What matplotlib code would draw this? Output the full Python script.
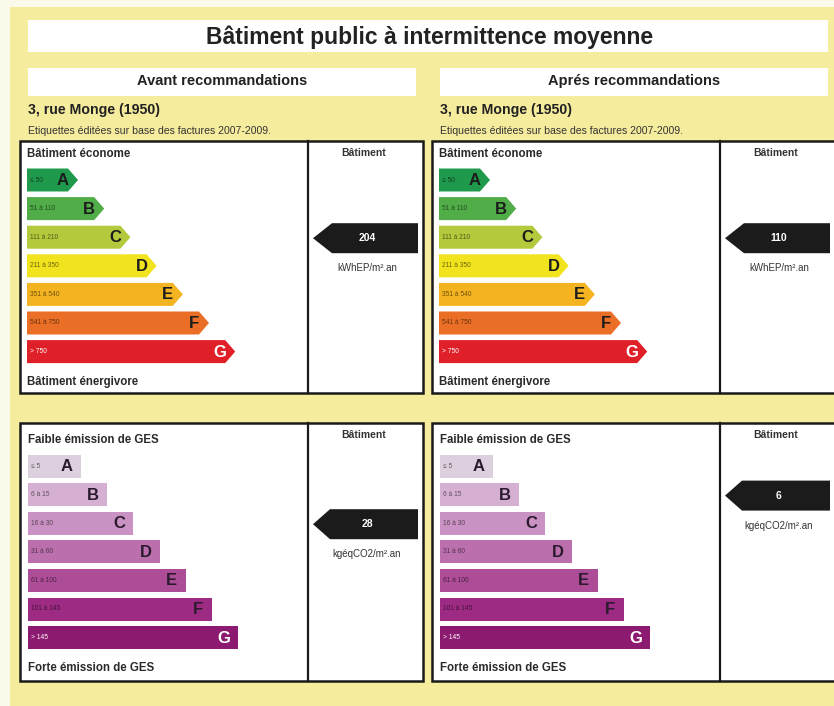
import matplotlib
matplotlib.use("Agg")
import matplotlib.pyplot as plt
from matplotlib.patches import Rectangle, Polygon
from matplotlib.colors import to_rgb

plt.rcParams['font.family'] = ['Liberation Sans', 'DejaVu Sans']

# --- données ---
title = "Bâtiment public à intermittence moyenne"
columns = ["Avant recommandations", "Aprés recommandations"]
address = "3, rue Monge (1950)"
note = "Etiquettes éditées sur base des factures 2007-2009."

classes = ["A", "B", "C", "D", "E", "F", "G"]
energy_ranges = ["≤ 50", "51 à 110", "111 à 210", "211 à 350", "351 à 540", "541 à 750", "> 750"]
energy_colors = ["#1f9a4c", "#50ad47", "#b4c93b", "#f1e31d", "#f4b320", "#ea6e26", "#e02028"]
ges_ranges = ["≤ 5", "6 à 15", "16 à 30", "31 à 60", "61 à 100", "101 à 145", "> 145"]
ges_colors = ["#ddd0de", "#d6b0d3", "#c992c2", "#bb70ad", "#ad4c97", "#9d2b84", "#8b1a70"]

energy_values = [204, 110]
energy_rows = ["C", "C"]
ges_values = [28, 6]
ges_rows = ["C", "B"]
energy_unit = "kWhEP/m².an"
ges_unit = "kgéqCO2/m².an"

BG = "#f6ec9e"


def darker(c, f=0.45):
    r, g, b = to_rgb(c)
    return (r * f, g * f, b * f)


fig = plt.figure(figsize=(8.34, 7.06), dpi=100)
fig.patch.set_facecolor("#fbf9ea")
ax = fig.add_axes([0, 0, 1, 1])
ax.set_xlim(0, 834)
ax.set_ylim(706, 0)
ax.axis('off')

# fond jaune + bandeau titre
ax.add_patch(Rectangle((10, 7), 830, 705, facecolor=BG, edgecolor='none'))
ax.add_patch(Rectangle((28, 20), 800, 32, facecolor='white', edgecolor='none'))
ax.text(430, 37, title, ha='center', va='center', fontsize=16.5, fontweight='bold', color='#222222')


def draw_scale(x0, yA, ranges, colors, arrows, header, footer):
    pitch, h = 28.6, 23
    ax.text(x0, yA - 26, header, ha='left', va='center', fontsize=8.3, fontweight='bold', color='#2a2a2a')
    for i, (lab, rng, col) in enumerate(zip(classes, ranges, colors)):
        yc = yA + i * pitch
        end = x0 + 41 + i * 26.2
        if arrows:
            pts = [(x0, yc - h / 2), (end, yc - h / 2), (end + 10, yc), (end, yc + h / 2), (x0, yc + h / 2)]
            lx = end - 5
            lc = 'white' if lab == 'G' else '#1c1c1c'
        else:
            end += 12
            pts = [(x0, yc - h / 2), (end, yc - h / 2), (end, yc + h / 2), (x0, yc + h / 2)]
            lx = end - 14
            lc = 'white' if lab == 'G' else '#2b1a2e'
        ax.add_patch(Polygon(pts, closed=True, facecolor=col, edgecolor='none'))
        tc = 'white' if lab == 'G' else darker(col)
        ax.text(x0 + 3, yc, rng, ha='left', va='center', fontsize=4.8, color=tc)
        ax.text(lx, yc + 0.5, lab, ha='center', va='center', fontsize=12, fontweight='bold', color=lc)
    ax.text(x0, yA + 6 * pitch + 30, footer, ha='left', va='center', fontsize=8.3, fontweight='bold', color='#2a2a2a')


def draw_pointer(xd, yA, row, value, unit, tip_len):
    i = classes.index(row)
    yc = yA + i * 28.6 + 1
    h = 30
    pts = [(xd + 5, yc), (xd + 5 + tip_len, yc - h / 2), (xd + 110, yc - h / 2),
           (xd + 110, yc + h / 2), (xd + 5 + tip_len, yc + h / 2)]
    ax.add_patch(Polygon(pts, closed=True, facecolor='#1b1b1b', edgecolor='none'))
    ax.text(xd + 59, yc, str(value), ha='center', va='center', fontsize=7.5, fontweight='bold', color='white')
    ax.text(xd + 59, yc + 30, unit, ha='center', va='center', fontsize=7, color='#333333')


for k, dx in enumerate([0, 412]):
    # sous-titre
    ax.add_patch(Rectangle((28 + dx, 68), 388, 28, facecolor='white', edgecolor='none'))
    ax.text(222 + dx, 81, columns[k], ha='center', va='center', fontsize=10.5, fontweight='bold', color='#222222')
    ax.text(28 + dx, 110, address, ha='left', va='center', fontsize=10.2, fontweight='bold', color='#222222')
    ax.text(28 + dx, 131, note, ha='left', va='center', fontsize=7.6, color='#333333')

    xd = 308 + dx
    # panneaux énergie / GES
    for top, bot in [(141, 393), (423, 681)]:
        ax.add_patch(Rectangle((20 + dx, top), 403, bot - top, facecolor='white', edgecolor='#1a1a1a', linewidth=1.8))
        ax.plot([xd, xd], [top, bot], color='#1a1a1a', linewidth=1.6)
        ax.text(xd + 56, top + 12, "Bâtiment", ha='center', va='center', fontsize=7.5, fontweight='bold', color='#333333')

    draw_scale(27 + dx, 180, energy_ranges, energy_colors, True, "Bâtiment économe", "Bâtiment énergivore")
    draw_scale(28 + dx, 466, ges_ranges, ges_colors, False, "Faible émission de GES", "Forte émission de GES")
    draw_pointer(xd, 180, energy_rows[k], energy_values[k], energy_unit, 19)
    draw_pointer(xd, 466, ges_rows[k], ges_values[k], ges_unit, 17)

fig.savefig("out.png", dpi=100, facecolor=fig.get_facecolor())
